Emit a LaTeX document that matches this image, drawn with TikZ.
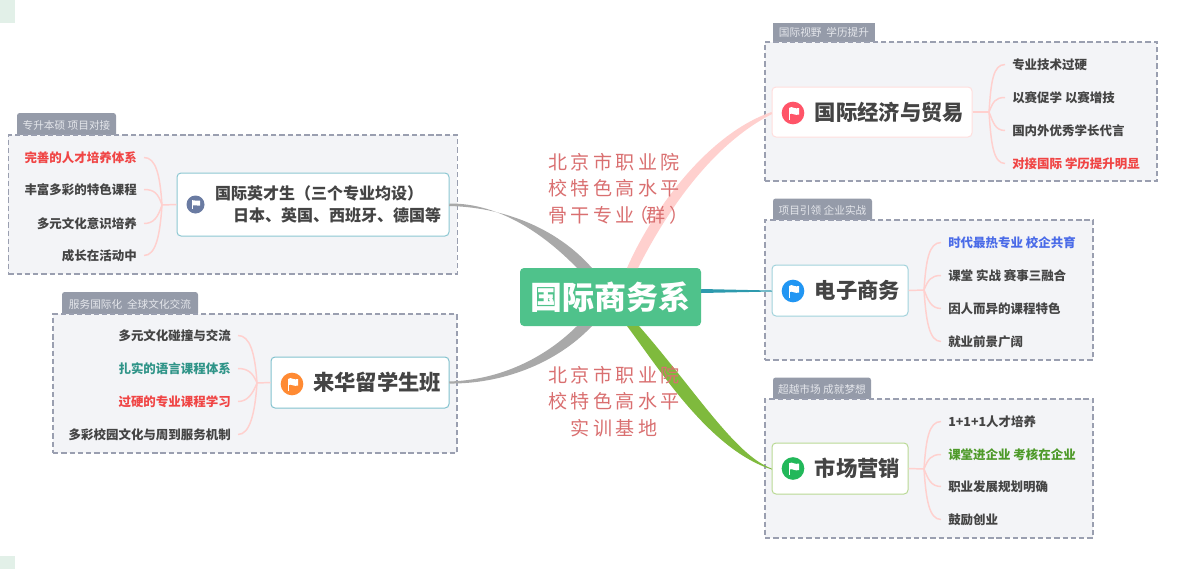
\documentclass[tikz,border=0pt]{standalone}
\usepackage{fontspec}
\setmainfont{Noto Sans CJK SC}
\newfontfamily\overlayfont[LetterSpace=18]{Noto Sans CJK SC}

\definecolor{rootgreen}{HTML}{4FC28B}
\definecolor{groupfill}{HTML}{F3F4F7}
\definecolor{groupline}{HTML}{9A9FB0}
\definecolor{tagfill}{HTML}{959BA9}
\definecolor{tagtext}{HTML}{E4E6EB}
\definecolor{darktext}{HTML}{444444}
\definecolor{twigpink}{HTML}{FFD0CE}
\definecolor{branchgray}{HTML}{A9A9A9}
\definecolor{branchteal}{HTML}{2E9AAE}
\definecolor{branchgreen}{HTML}{7FBA3D}
\definecolor{itemred}{HTML}{F04545}
\definecolor{itemteal}{HTML}{2F9488}
\definecolor{itemblue}{HTML}{4A6BE8}
\definecolor{itemgreen}{HTML}{4E9A2A}
\definecolor{overlayred}{HTML}{D96F70}
\definecolor{edgepatch}{HTML}{E2F0E8}
\definecolor{iconslate}{HTML}{6A7BA2}
\definecolor{iconorange}{HTML}{FF8A33}
\definecolor{iconred}{HTML}{FF5468}
\definecolor{iconblue}{HTML}{2196F3}
\definecolor{icongreen}{HTML}{22B85A}

\begin{document}
\begin{tikzpicture}[x=0.75pt, y=-0.75pt]
  \tikzset{
    root_node/.style={rectangle, rounded corners=3pt, fill=rootgreen, text=white, font=\fontsize{24}{26}\selectfont\bfseries, minimum width=135.75pt, minimum height=43.5pt, inner sep=0pt},
    group_node/.style={rectangle, draw=groupline, fill=groupfill, line width=1.1pt, dash pattern=on 4pt off 2.2pt},
    tag_node/.style={rectangle, rounded corners=2pt, fill=tagfill, text=tagtext, font=\fontsize{8}{9}\selectfont, inner sep=0pt},
    topic_node/.style={rectangle, rounded corners=3pt, fill=white, draw=#1, line width=0.75pt, text=darktext, align=right, inner xsep=6pt, inner ysep=0pt, font=\fontsize{16}{19}\selectfont\bfseries},
    icon_node/.style={circle, fill=#1, minimum size=17pt, inner sep=0pt},
    item_left/.style={anchor=west, inner xsep=5.25pt, inner ysep=0pt, text=darktext, font=\fontsize{9.35}{11}\selectfont\bfseries},
    item_right/.style={anchor=east, inner xsep=5.25pt, inner ysep=0pt, text=darktext, font=\fontsize{9.35}{11}\selectfont\bfseries},
    twig/.style={draw=twigpink, line width=1.1pt},
    overlay_node/.style={text=overlayred, inner sep=0pt, font=\overlayfont\fontsize{14.3}{20}\selectfont},
    flag_mark/.pic={
      \fill[white] (-4.5,-5.5) rectangle (-3.3,6.5);
      \fill[white] (-3.3,-5.5) .. controls (-1,-7) and (2,-3.5) .. (6,-5) -- (6,1.5) .. controls (2,3) and (-1,-0.5) .. (-3.3,1) -- cycle;
    }
  }

  \useasboundingbox (0,0) rectangle (1177,569);

  % Franjas del borde izquierdo
  \fill[edgepatch] (0,0) rectangle (15,23);
  \fill[edgepatch] (0,556) rectangle (15,569);

  % Etiquetas de los grupos
  \node[tag_node, minimum width=74.25pt, minimum height=18pt] (tag_a) at (66.5,125) {专升本硕 项目对接};
  \node[tag_node, minimum width=102pt, minimum height=18pt] (tag_b) at (130,304) {服务国际化\ \ 全球文化交流};
  \node[tag_node, rounded corners=0pt, minimum width=76.5pt, minimum height=15pt] (tag_c) at (824,32.5) {国际视野\ \ 学历提升};
  \node[tag_node, minimum width=74.25pt, minimum height=18pt] (tag_d) at (822.5,210.5) {项目引领 企业实战};
  \node[tag_node, minimum width=73.5pt, minimum height=18pt] (tag_e) at (822,389.5) {超越市场 成就梦想};

  % Grupos punteados
  \node[group_node, minimum width=336.75pt, minimum height=104.25pt] (group_a) at (232.75,204.5) {};
  \node[group_node, minimum width=303pt, minimum height=104.25pt] (group_b) at (255,383.5) {};
  \node[group_node, minimum width=294pt, minimum height=104.25pt] (group_c) at (961,111.5) {};
  \node[group_node, minimum width=246pt, minimum height=105pt] (group_d) at (929,290) {};
  \node[group_node, minimum width=246pt, minimum height=104.25pt] (group_e) at (929,468.5) {};

  % Nodo central
  \node[root_node] (root) at (610.5,297) {国际商务系};

  % Temas
  \node[topic_node=branchteal!55, text width=192pt, minimum height=47.25pt, font=\fontsize{12}{16}\selectfont\bfseries] (topic_a) at (313,204.5) {国际英才生（三个专业均设）\rule{13.5pt}{0pt}\\日本、英国、西班牙、德国等};
  \node[topic_node=branchteal!60, text width=121.5pt, minimum height=38.25pt] (topic_b) at (360,382.5) {来华留学生班};
  \node[topic_node=twigpink!70, text width=138pt, minimum height=37.5pt] (topic_c) at (872,112) {国际经济与贸易};
  \node[topic_node=branchteal!45, text width=90pt, minimum height=38.25pt] (topic_d) at (840,290.5) {电子商务};
  \node[topic_node=branchgreen!55, text width=90pt, minimum height=38.25pt] (topic_e) at (840,468.5) {市场营销};

  % Ramas gruesas hacia el nodo central
  \fill[branchgray] (topic_a.east) ++(0,-1) .. controls (500,203) and (545,235) .. (577,268) -- (592,268) .. controls (555,226) and (500,207) .. (449,206) -- cycle;
  \fill[branchgray] (topic_b.east) ++(0,1) .. controls (500,384) and (555,365) .. (592,326) -- (577,326) .. controls (545,358) and (500,380) .. (449,381.5) -- cycle;
  \fill[twigpink] (topic_c.west) .. controls (705,135) and (650,215) .. (627,268) -- (638,268) .. controls (670,205) and (715,143) .. (772,114) -- cycle;
  \fill[branchteal] (root.east) ++(0,-8) -- (topic_d.west) -- (772,291.5) -- (701,293) -- cycle;
  \fill[branchgreen] (topic_e.west) .. controls (735,455) and (695,390) .. (639,326) -- (627,326) .. controls (660,370) and (710,450) .. (772,469.5) -- cycle;

  % Iconos
  \node[icon_node=iconslate, minimum size=13.5pt] (icon_a) at (195.5,204.5) {};
  \pic[scale=0.75] at (icon_a.center) {flag_mark};
  \node[icon_node=iconorange] (icon_b) at (292,384) {};
  \pic at (icon_b.center) {flag_mark};
  \node[icon_node=iconred] (icon_c) at (793,113) {};
  \pic at (icon_c.center) {flag_mark};
  \node[icon_node=iconblue] (icon_d) at (793,291) {};
  \pic at (icon_d.center) {flag_mark};
  \node[icon_node=icongreen] (icon_e) at (793,468.5) {};
  \pic at (icon_e.center) {flag_mark};

  % Puntos de union
  \coordinate (junction_a) at (162,205);
  \coordinate (junction_b) at (257,383);
  \coordinate (junction_c) at (989,112);
  \coordinate (junction_d) at (924,290);
  \coordinate (junction_e) at (924,469);

  % Hojas del grupo a
  \node[item_right, text=itemred] (item_a1) at (144,157.5) {完善的人才培养体系};
  \node[item_right] (item_a2) at (144,189.5) {丰富多彩的特色课程};
  \node[item_right] (item_a3) at (144,223.5) {多元文化意识培养};
  \node[item_right] (item_a4) at (144,255.5) {成长在活动中};
  \draw[twig] (topic_a.west) -- (junction_a);
  \draw[twig] (junction_a) .. controls +(-2,-30) and +(12,0) .. (item_a1.east);
  \draw[twig] (junction_a) .. controls +(-4,-12) and +(10,0) .. (item_a2.east);
  \draw[twig] (junction_a) .. controls +(-4,12) and +(10,0) .. (item_a3.east);
  \draw[twig] (junction_a) .. controls +(-2,30) and +(12,0) .. (item_a4.east);

  % Hojas del grupo b
  \node[item_right] (item_b1) at (238,335.5) {多元文化碰撞与交流};
  \node[item_right, text=itemteal] (item_b2) at (238,368.5) {扎实的语言课程体系};
  \node[item_right, text=itemred] (item_b3) at (238,401.5) {过硬的专业课程学习};
  \node[item_right] (item_b4) at (238,434.5) {多彩校园文化与周到服务机制};
  \draw[twig] (topic_b.west) -- (junction_b);
  \draw[twig] (junction_b) .. controls +(-2,-30) and +(12,0) .. (item_b1.east);
  \draw[twig] (junction_b) .. controls +(-4,-10) and +(10,0) .. (item_b2.east);
  \draw[twig] (junction_b) .. controls +(-4,10) and +(10,0) .. (item_b3.east);
  \draw[twig] (junction_b) .. controls +(-2,30) and +(12,0) .. (item_b4.east);

  % Hojas del grupo c
  \node[item_left] (item_c1) at (1005,64.5) {专业技术过硬};
  \node[item_left] (item_c2) at (1005,97.5) {以赛促学 以赛增技};
  \node[item_left] (item_c3) at (1005,130.5) {国内外优秀学长代言};
  \node[item_left, text=itemred] (item_c4) at (1005,163.5) {对接国际 学历提升明显};
  \draw[twig] (topic_c.east) -- (junction_c);
  \draw[twig] (junction_c) .. controls +(2,-30) and +(-12,0) .. (item_c1.west);
  \draw[twig] (junction_c) .. controls +(4,-10) and +(-10,0) .. (item_c2.west);
  \draw[twig] (junction_c) .. controls +(4,10) and +(-10,0) .. (item_c3.west);
  \draw[twig] (junction_c) .. controls +(2,30) and +(-12,0) .. (item_c4.west);

  % Hojas del grupo d
  \node[item_left, text=itemblue] (item_d1) at (941,242.5) {时代最热专业 校企共育};
  \node[item_left] (item_d2) at (941,275.5) {课堂 实战 赛事三融合};
  \node[item_left] (item_d3) at (941,308.5) {因人而异的课程特色};
  \node[item_left] (item_d4) at (941,341.5) {就业前景广阔};
  \draw[twig] (topic_d.east) -- (junction_d);
  \draw[twig] (junction_d) .. controls +(2,-30) and +(-12,0) .. (item_d1.west);
  \draw[twig] (junction_d) .. controls +(4,-10) and +(-10,0) .. (item_d2.west);
  \draw[twig] (junction_d) .. controls +(4,10) and +(-10,0) .. (item_d3.west);
  \draw[twig] (junction_d) .. controls +(2,30) and +(-12,0) .. (item_d4.west);

  % Hojas del grupo e
  \node[item_left] (item_e1) at (941,421.5) {1+1+1人才培养};
  \node[item_left, text=itemgreen] (item_e2) at (941,454.5) {课堂进企业 考核在企业};
  \node[item_left] (item_e3) at (941,486.5) {职业发展规划明确};
  \node[item_left] (item_e4) at (941,519.5) {鼓励创业};
  \draw[twig] (topic_e.east) -- (junction_e);
  \draw[twig] (junction_e) .. controls +(2,-30) and +(-12,0) .. (item_e1.west);
  \draw[twig] (junction_e) .. controls +(4,-10) and +(-10,0) .. (item_e2.west);
  \draw[twig] (junction_e) .. controls +(4,10) and +(-10,0) .. (item_e3.west);
  \draw[twig] (junction_e) .. controls +(2,30) and +(-12,0) .. (item_e4.west);

  % Textos superpuestos
  \node[overlay_node, anchor=west, align=left] (overlay_top) at (548,188.5) {北京市职业院\\校特色高水平\\骨干专业\hspace*{-4pt}（\hspace*{-1.5pt}群）};
  \node[overlay_node, align=center] (overlay_bottom) at (614,401.5) {北京市职业院\\校特色高水平\\实训基地};
\end{tikzpicture}
\end{document}
